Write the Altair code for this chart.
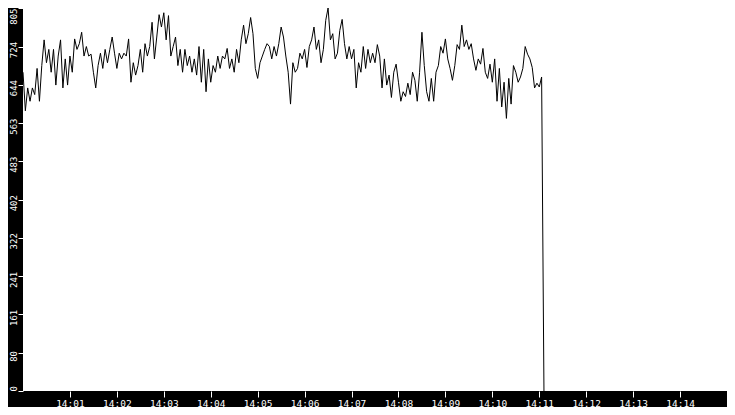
import altair as alt
import pandas as pd

# sampled signal values (one sample every 3 seconds starting 14:00:00)
seg1 = [670, 589, 637, 609, 637, 623, 678, 609, 684, 738,
        690, 718, 670, 718, 643, 704, 738, 637, 698, 643,
        704, 670, 740, 718, 730, 754, 704, 724, 704, 708,
        670, 637, 684, 710, 678, 718, 690, 718, 744, 710,
        678, 710, 698, 710, 704, 740, 649, 690, 664, 684,
        718, 670, 730, 704]
seg2 = [724, 775, 698, 744, 791, 765, 795, 738, 789, 704,
        724, 744, 684, 718, 670, 718, 684, 704, 670, 698,
        664, 724, 649, 718, 629, 698, 649, 684, 670, 704,
        678, 704, 698, 720, 678, 698, 670, 718, 690, 738,
        769, 730, 751, 785, 751, 678, 657, 690, 704, 718,
        730, 724]
seg3 = [698, 724, 704, 730, 765, 744, 704, 670, 603, 690,
        670, 678, 710, 698, 718, 680, 724, 738, 765, 718,
        738, 690, 718, 779, 805, 738, 751, 698, 710, 758,
        781, 730, 698, 724, 698, 718, 637, 690, 670, 724,
        678, 718, 690, 710, 690, 728, 704, 637, 698, 643,
        664, 617]
seg4 = [670, 687, 649, 609, 629, 619, 647, 623, 670, 653,
        609, 670, 754, 684, 629, 609, 657, 609, 670, 684,
        724, 710, 740, 698, 678, 653, 684, 728, 718, 769,
        724, 738, 718, 730, 698, 674, 698, 687, 720, 670,
        657, 687, 649, 698, 609, 678, 597, 649, 573, 657,
        603, 684, 670, 649, 660, 678, 724, 708, 698, 680,
        637, 647, 639, 660]
tail = [0]

values = seg1 + seg2 + seg3 + seg4 + tail
y_ticks = [0, 80, 161, 241, 322, 402, 483, 563, 644, 724, 805]
x_tick_minutes = list(range(1, 15))

times = pd.date_range("2024-01-01 14:00:00", periods=len(values), freq="3s")
df = pd.DataFrame({"time": times, "value": values})


def dt(m):
    return alt.DateTime(year=2024, month=1, date=1, hours=14, minutes=m)


label_font = "DejaVu Sans Mono"

chart = alt.Chart(df).mark_line(color="black", strokeWidth=1).encode(
    x=alt.X(
        "time:T",
        scale=alt.Scale(domain=[dt(0), dt(15)]),
        axis=alt.Axis(
            values=[dt(m) for m in x_tick_minutes],
            format="%H:%M",
            title=None,
            grid=False,
            domain=False,
            tickColor="white",
            tickSize=6,
            labelColor="white",
            labelFont=label_font,
            labelFontSize=9.5,
            labelPadding=1,
            labelFlush=False,
            labelOverlap=False,
        ),
    ),
    y=alt.Y(
        "value:Q",
        scale=alt.Scale(domain=[0, 805], nice=False),
        axis=alt.Axis(
            values=y_ticks,
            title=None,
            grid=False,
            domain=False,
            tickColor="white",
            tickSize=5,
            labelColor="white",
            labelFont=label_font,
            labelFontSize=9,
            labelAngle=270,
            labelAlign=alt.ExprRef(
                expr="datum.value == 0 ? 'left' : (datum.value >= 805 ? 'right' : 'center')"
            ),
            labelBaseline="bottom",
            labelOffset=alt.ExprRef(
                expr="(datum.value == 0 || datum.value >= 805) ? 0 : 3"
            ),
            labelPadding=0,
            labelFlush=False,
            labelOverlap=False,
        ),
    ),
).properties(
    width=704,
    height=383,
    padding={"left": 15, "top": 0, "right": 0, "bottom": 16},
    autosize=alt.AutoSizeParams(type="none"),
    background="black",
).configure_view(
    fill="white",
    stroke="transparent",
    strokeWidth=0,
)

chart.save("out.html", embed_options={"renderer": "svg", "actions": False})
